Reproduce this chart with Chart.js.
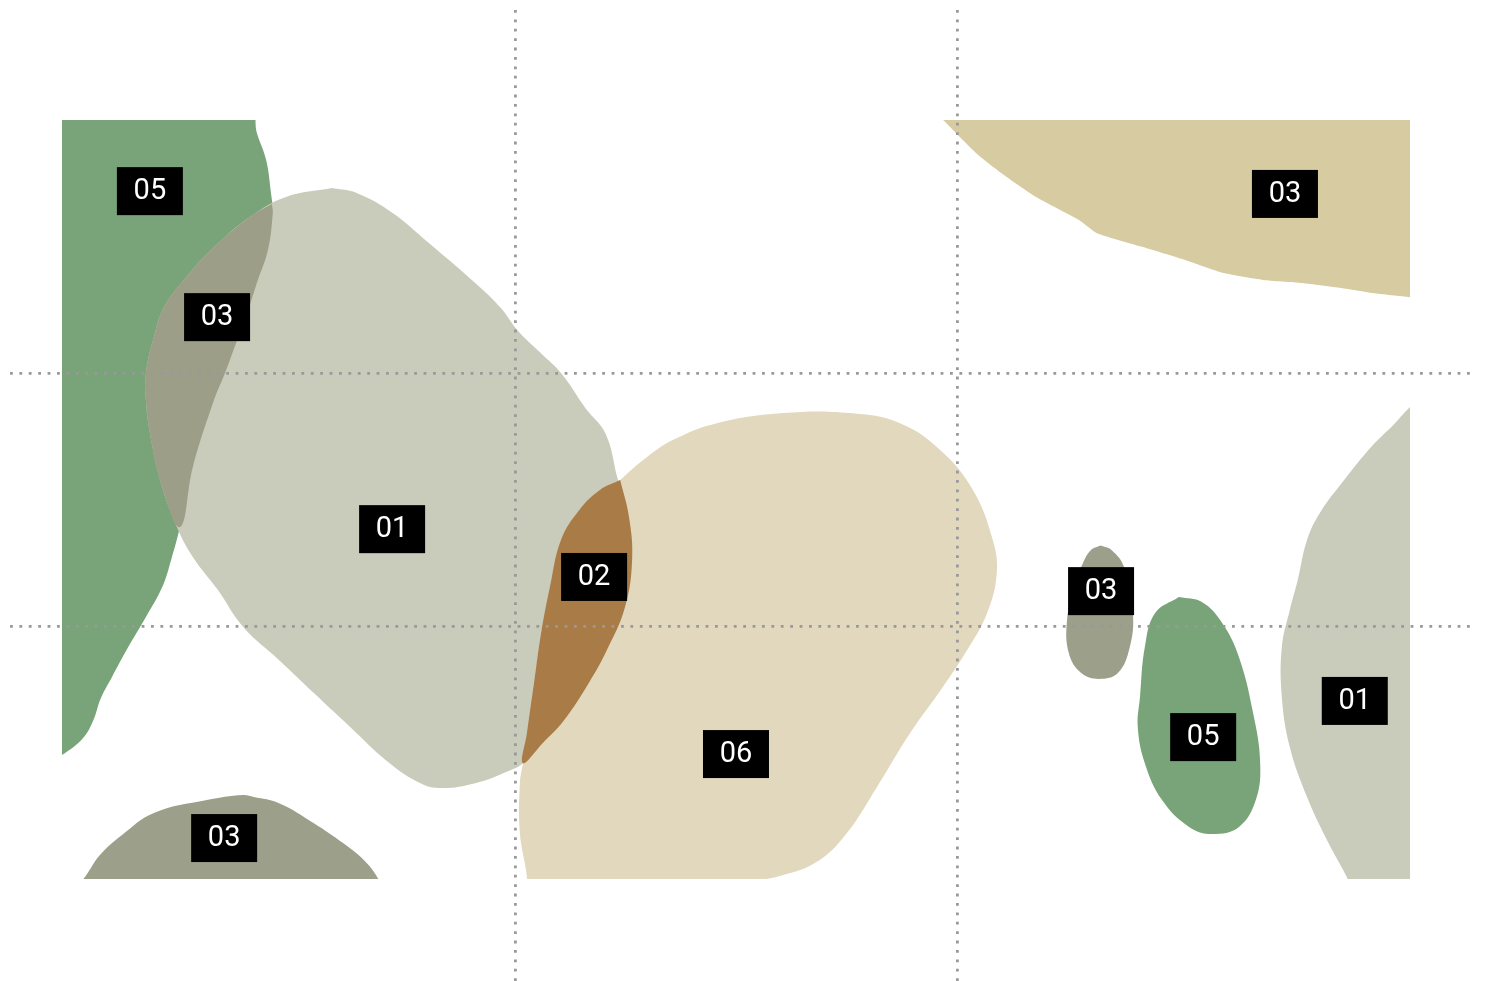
<!DOCTYPE html>
<html>
<head>
<meta charset="utf-8">
<script src="https://cdn.jsdelivr.net/npm/chart.js@4.4.1/dist/chart.umd.min.js"></script>
<style>
html,body{margin:0;padding:0;background:#fff}
#wrap{width:1486px;height:981px}
</style>
</head>
<body>
<div id="wrap"><canvas id="chart"></canvas></div>
<script>
// grid cells are 100 units wide, frame runs 0..300 on both axes
const gridX = [100, 200];
const gridY = [100, 200];
const frameX = [-2.5, 302.5];
const frameY = [0, 300];

// region outlines [x, y]
const green05Left = [[-9.7,307.9],[39.6,307.9],[41.6,294.9],[43.7,284.2],[44.8,271.1],[45.2,263.2],[44.1,248.6],[41.6,235.6],[39.1,222.1],[36.9,211.9],[34.4,200],[31.9,189.3],[27.1,162.8],[24.2,139.1],[22.2,126.1],[20.2,115.4],[16.5,103.6],[12.5,91.7],[8.8,79.8],[6.3,71.5],[4.6,62.8],[2.2,55.6],[-2.5,49],[-9.7,41.1]];
const grey01Left = [[58.6,273.1],[64.3,271.1],[72.4,263.2],[80.5,251.4],[91.0,235.6],[96.9,225.5],[100.6,216.8],[105.7,208.1],[110.6,199.6],[116.0,186.0],[120.5,176.0],[123.3,157.7],[125.8,143.1],[126.5,126.1],[124.9,107.5],[120.8,90.5],[116.7,77.5],[111.1,62.8],[106.3,53.8],[101.8,45.8],[99.1,43.1],[91.0,37.9],[82.8,36.0],[77.7,38.7],[70.8,47.0],[62.7,60.1],[54.5,73.5],[46.6,86.6],[38.5,99.6],[32.8,114.2],[27.1,127.3],[23.5,139.1],[19.9,156.5],[17.4,176.3],[16.5,189.3],[16.5,200],[18.3,214.2],[20.6,226.1],[25.6,237.9],[31.9,249.8],[40.0,261.7],[48.2,269.6]];
const olive03Left = [[45.0,266.8],[45.2,263.2],[44.1,248.6],[41.6,235.6],[39.1,222.1],[36.9,211.9],[34.4,200],[31.9,189.3],[27.1,162.8],[24.2,139.1],[19.9,156.5],[17.4,176.3],[16.5,189.3],[16.5,200],[18.3,214.2],[20.6,226.1],[25.6,237.9],[31.9,249.8],[40.0,261.7]];
const tan06 = [[123.8,157.7],[129.0,165.6],[135.7,173.5],[145.7,180.2],[160.6,184.2],[175.8,184.2],[187.1,180.2],[196.2,169.6],[203.6,153.8],[208.1,134.0],[209.0,120.9],[206.8,105.1],[202.3,90.5],[196.8,75.9],[189.4,57.7],[181.9,36.4],[175.1,18.2],[168.5,7.0],[160.5,1.5],[150.0,-2.0],[130.0,-8.3],[102.7,-8.3],[102.7,0.8],[101.1,18.2],[101.1,37.9],[101.8,45.8],[102.7,57.7],[104.3,77.5],[105.9,97.2],[107.9,115.4],[110.4,134.0],[114.5,145.8],[119.2,153.8]];
const brown02 = [[123.8,157.7],[125.8,143.1],[126.5,126.1],[124.9,107.5],[120.8,90.5],[116.7,77.5],[111.1,62.8],[106.3,53.8],[101.8,45.8],[102.7,57.7],[104.3,77.5],[105.9,97.2],[107.9,115.4],[110.4,134.0],[114.5,145.8],[119.2,153.8]];
const sand03Right = [[193.9,307.9],[307.0,307.9],[307.0,230.0],[302.5,230.0],[294.1,231.6],[286.9,233.6],[278.1,235.6],[269.2,236.8],[260.4,239.5],[251.6,244.7],[242.1,249.8],[231.7,255.3],[227.6,260.5],[217.9,269.6],[210.0,279.1],[204.3,287.0],[197.1,299.6],[192.8,307.1]];
const grey01Right = [[307.0,193.3],[302.5,186.6],[299.1,180.2],[293.7,170.8],[287.6,157.7],[282.1,144.7],[279.2,134.0],[277.1,118.2],[275.3,106.3],[273.5,91.7],[273.5,71.9],[275.3,52.2],[279.2,32.4],[283.7,15.4],[288.2,0.8],[290.0,-6.3],[307.0,-6.3]];
const olive03Right = [[232.5,131.8],[235.0,130.0],[237.8,123.3],[239.8,105.1],[239.1,91.7],[236.4,81.4],[232.1,79.1],[228.1,81.4],[225.3,89.3],[224.9,102.4],[226.5,115.4],[228.6,125.3],[230.3,130.0]];
const green05Right = [[250.2,111.5],[255.4,109.5],[260.0,101.2],[263.8,87.7],[267.0,65.6],[268.6,45.8],[267.6,31.2],[263.8,20.6],[257.7,17.8],[252.5,20.6],[246.4,31.2],[242.5,45.8],[240.9,60.1],[241.4,71.9],[242.5,91.7],[244.8,105.1]];
const olive03Bottom = [[-0.7,-6.3],[2.7,0.8],[6.1,9.5],[11.1,17.4],[18.3,26.1],[30.3,31.2],[38.5,33.2],[40.9,32.4],[46.6,30.0],[54.5,22.1],[61.1,14.2],[65.8,7.5],[68.8,0.8],[70.6,-6.3]];

// labels
const labelText = ['05','03','01','02','06','03','03','03','05','01'];
const labelX = [17.4, 32.6, 72.2, 117.9, 150.0, 34.2, 274.2, 232.6, 255.7, 290.0];
const labelY = [271.9, 222.1, 138.3, 119.4, 49.4, 16.2, 270.8, 113.8, 56.1, 70.4];

function pts(a){return a.concat([a[0]]).map(p=>({x:p[0],y:p[1]}));}
function blob(a,col,t){
  return {data:pts(a),showLine:true,fill:'shape',backgroundColor:col,borderColor:'rgba(0,0,0,0)',borderWidth:0,pointRadius:0,pointHoverRadius:0,tension:t===undefined?0.4:t};
}

const frameClip = {
  id:'frameClip',
  beforeDatasetsDraw(chart){
    const {ctx,scales:{x,y}} = chart;
    const l=x.getPixelForValue(frameX[0]), r=x.getPixelForValue(frameX[1]);
    const t=y.getPixelForValue(frameY[1]), b=y.getPixelForValue(frameY[0]);
    ctx.save();ctx.beginPath();ctx.rect(l,t,r-l,b-t);ctx.clip();
  },
  afterDatasetsDraw(chart){chart.ctx.restore();}
};

const tags = {
  id:'tags',
  afterDraw(chart){
    const {ctx,scales:{x,y}} = chart;
    ctx.save();
    ctx.font = '29px Roboto';
    ctx.textAlign='center';ctx.textBaseline='middle';
    labelText.forEach((t,i)=>{
      const px=x.getPixelForValue(labelX[i]), py=y.getPixelForValue(labelY[i]);
      ctx.fillStyle='#000';ctx.fillRect(px-33,py-24,66,48);
      ctx.fillStyle='#fff';ctx.fillText(t,px,py+1);
    });
    ctx.restore();
  }
};

const gridOpts = {color:'#999999',lineWidth:2.8,drawTicks:false,z:1};

// chart.js paints the last dataset first, so the list runs top layer -> bottom layer
const layers = [
  blob(olive03Bottom,'#9c9f8a'),
  blob(green05Right,'#79a479'),
  blob(olive03Right,'#9c9f89'),
  blob(grey01Right,'#c9cbbb'),
  blob(sand03Right,'#d6cba1',0.2),
  blob(brown02,'#a97b46'),
  blob(tan06,'#e2d8be'),
  blob(olive03Left,'#9c9e87'),
  blob(grey01Left,'#c9cbbb'),
  blob(green05Left,'#79a479')
];

new Chart(document.getElementById('chart'),{
  type:'scatter',
  data:{datasets:layers},
  options:{
    responsive:true,maintainAspectRatio:false,animation:false,
    layout:{padding:{left:10,right:11,top:10,bottom:0}},
    plugins:{legend:{display:false},tooltip:{enabled:false}},
    scales:{
      x:{type:'linear',min:-14.25,max:317.2,
        afterBuildTicks:s=>{s.ticks=gridX.map(v=>({value:v}));},
        ticks:{display:false},grid:gridOpts,border:{display:false,dash:[2.8,6.6]}},
      y:{type:'linear',min:-40.3,max:343.5,
        afterBuildTicks:s=>{s.ticks=gridY.map(v=>({value:v}));},
        ticks:{display:false},grid:gridOpts,border:{display:false,dash:[2.8,6.6]}}
    }
  },
  plugins:[frameClip,tags]
});
</script>
</body>
</html>
